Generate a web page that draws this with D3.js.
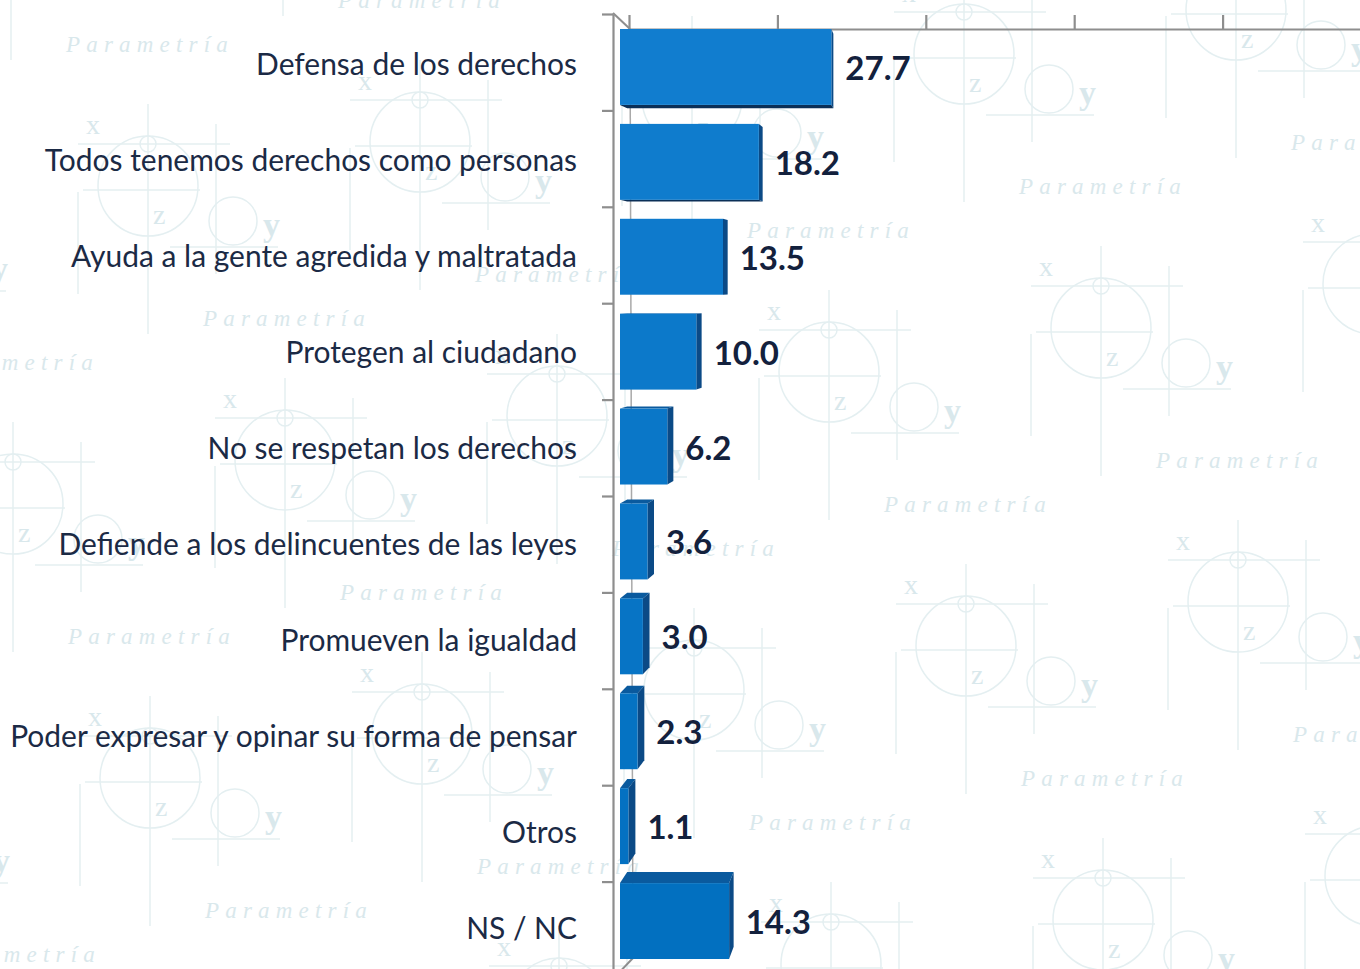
<!DOCTYPE html>
<html><head><meta charset="utf-8">
<script src="https://cdn.jsdelivr.net/npm/d3@7"></script>
<style>html,body{margin:0;padding:0;background:#fff;overflow:hidden}</style>
</head><body><svg id="chart" width="1360" height="969"></svg>
<script>
// ---------- data ----------
const categories = [
  "Defensa de los derechos",
  "Todos tenemos derechos como personas",
  "Ayuda a la gente agredida y maltratada",
  "Protegen al ciudadano",
  "No se respetan los derechos",
  "Defiende a los delincuentes de las leyes",
  "Promueven la igualdad",
  "Poder expresar y opinar su forma de pensar",
  "Otros",
  "NS / NC"
];
const values = [27.7, 18.2, 13.5, 10.0, 6.2, 3.6, 3.0, 2.3, 1.1, 14.3];
const valueLabels = ["27.7", "18.2", "13.5", "10.0", "6.2", "3.6", "3.0", "2.3", "1.1", "14.3"];
const axisTicks = [0, 20, 40, 60, 80, 100];

// ---------- setup ----------
const W = 1360, H = 969;
const svg = d3.select("#chart");
svg.append("rect").attr("width", W).attr("height", H).attr("fill", "#ffffff");

// ---------- watermark (decoration) ----------
const wm = svg.append("g").attr("class", "watermark");
const wmLine = "#e4eff1", wmText = "#d9e8ec";
function motif(g) {
  const L = (x1, y1, x2, y2) => g.append("line").attr("x1", x1).attr("y1", y1).attr("x2", x2).attr("y2", y2)
    .attr("stroke", wmLine).attr("stroke-width", 1.5);
  L(-70, 0, 82, 0);
  L(0, -40, 0, 190);
  L(68, -20, 68, 130);
  L(-65, 46, 52, 46);
  L(22, 103, 130, 103);
  L(-70, 48, -70, 150);
  g.append("circle").attr("r", 8).attr("fill", "none").attr("stroke", wmLine).attr("stroke-width", 1.5);
  g.append("circle").attr("cy", 42).attr("r", 50).attr("fill", "none").attr("stroke", wmLine).attr("stroke-width", 1.5);
  g.append("circle").attr("cx", 85).attr("cy", 77).attr("r", 24).attr("fill", "none").attr("stroke", wmLine).attr("stroke-width", 1.5);
  const T = (t, x, y, s) => g.append("text").attr("x", x).attr("y", y).text(t)
    .attr("font-family", "Liberation Serif, serif").attr("font-size", s).attr("fill", wmText);
  T("x", -62, -10, 28);
  T("z", 5, 80, 28);
  T("y", 115, 92, 34).attr("font-weight", "bold");
  g.append("text").attr("x", -82).attr("y", -92).text("Parametría")
    .attr("font-family", "Liberation Serif, serif").attr("font-style", "italic")
    .attr("font-size", 23).attr("letter-spacing", 6.2).attr("fill", wmText);
}
const base = [285, 418], u = [272, -44], w = [137, 274];
for (let m = -4; m <= 6; m++) {
  for (let n = -3; n <= 4; n++) {
    const px = base[0] + m * u[0] + n * w[0];
    const py = base[1] + m * u[1] + n * w[1];
    if (px < -250 || px > W + 150 || py < -250 || py > H + 150) continue;
    motif(wm.append("g").attr("transform", `translate(${px},${py})`));
  }
}

// ---------- scales ----------
const xFront = d3.scaleLinear().domain([0, 100]).range([620, 620 + 763]);
const xBack = d3.scaleLinear().domain([0, 100]).range([629, 629 + 742]);
const yBar = d3.scaleBand().domain(categories).range([19.5, 968.5]).paddingInner(0.2).paddingOuter(0.1);
const yLab = d3.scaleBand().domain(categories).range([16, 976]);
const yTick = d3.scaleLinear().domain([0, categories.length]).range([14, 978]);

// ---------- walls / axes ----------
const axisCol = "#8e8e8e";
const walls = svg.append("g");
walls.append("line").attr("x1", 630).attr("y1", 29).attr("x2", 633).attr("y2", 958)
  .attr("stroke", "#a9a9a9").attr("stroke-width", 1.5);
walls.append("line").attr("x1", 613).attr("y1", 13).attr("x2", 630).attr("y2", 29)
  .attr("stroke", axisCol).attr("stroke-width", 2);
walls.append("line").attr("x1", 633).attr("y1", 958).attr("x2", 613).attr("y2", 979)
  .attr("stroke", axisCol).attr("stroke-width", 2);

const topAxis = svg.append("g").attr("transform", "translate(0,29)")
  .call(d3.axisTop(xBack).tickValues(axisTicks).tickSize(14).tickSizeOuter(0).tickFormat(""));
topAxis.selectAll("path,line").attr("stroke", axisCol).attr("stroke-width", 2.2);

const leftAxis = svg.append("g").attr("transform", "translate(613,0)")
  .call(d3.axisLeft(yTick).tickValues(d3.range(categories.length + 1)).tickSize(11).tickSizeOuter(0).tickFormat(""));
leftAxis.selectAll("path,line").attr("stroke", axisCol).attr("stroke-width", 2.2);

// ---------- 3D bars ----------
const vx = 913, cx = 0.0246, vy = 290, cy = 0.0185;
const dep = (x, y) => [x + cx * (vx - x), y + cy * (vy - y)];
const frontCol = d3.interpolateRgb("#117dcf", "#0270c0");
const sideCol = "#0b4a86", topCol = "#0a5a9e", botCol = "#0b2f57";
const bars = svg.append("g");
categories.forEach((c, i) => {
  const x0 = xFront(0), x1 = xFront(values[i]);
  const y0 = yBar(c), y1 = y0 + yBar.bandwidth();
  const g = bars.append("g");
  const p = pts => pts.map(q => q.join(",")).join(" ");
  const tl = [x0, y0], tr = [x1, y0], br = [x1, y1], bl = [x0, y1];
  const btl = dep(x0, y0), btr = dep(x1, y0), bbr = dep(x1, y1), bbl = dep(x0, y1);
  if (btl[1] < y0) g.append("polygon").attr("points", p([tl, tr, btr, btl])).attr("fill", topCol);
  if (bbl[1] > y1) g.append("polygon").attr("points", p([bl, br, bbr, bbl])).attr("fill", botCol);
  g.append("polygon").attr("points", p([tr, btr, bbr, br])).attr("fill", sideCol);
  g.append("rect").attr("x", x0).attr("y", y0).attr("width", x1 - x0).attr("height", y1 - y0)
    .attr("fill", frontCol(i / (categories.length - 1)));
  const lx = Math.max(btr[0], bbr[0]) + 12;
  g.append("text").attr("x", lx).attr("y", (y0 + y1) / 2 + 13).text(valueLabels[i])
    .attr("font-family", "Lato, sans-serif").attr("font-weight", "bold").attr("font-size", 33)
    .attr("fill", "#13213d");
});

// ---------- category labels ----------
const labG = svg.append("g");
let fs = 27;
const probe = labG.append("text").attr("font-family", "Lato, sans-serif").attr("font-size", fs)
  .text(categories[7]);
const wLong = probe.node().getComputedTextLength();
probe.remove();
fs = fs * 567 / wLong;
labG.selectAll("text").data(categories).join("text")
  .attr("x", 577).attr("y", d => yLab(d) + yLab.bandwidth() / 2 + 0.36 * fs)
  .attr("text-anchor", "end")
  .attr("font-family", "Lato, sans-serif").attr("font-size", fs)
  .attr("fill", "#1b2a45")
  .text(d => d);
</script>
</body></html>
